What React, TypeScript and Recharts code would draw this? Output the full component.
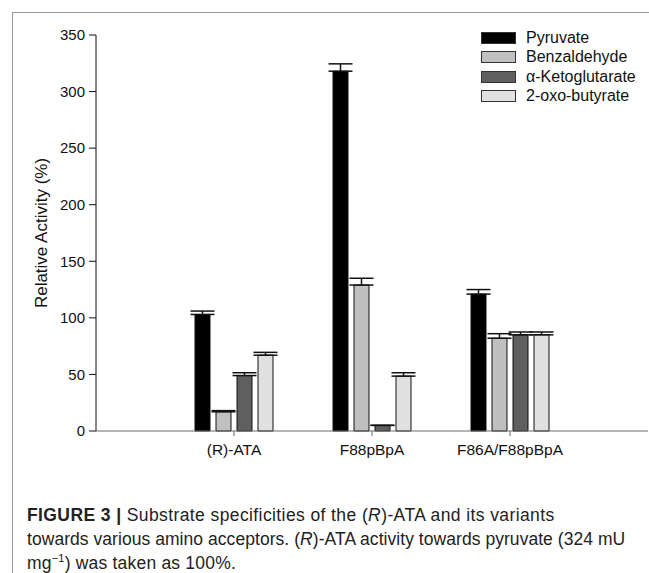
import { Bar, BarChart, ErrorBar, XAxis, YAxis, Label } from "recharts";

const categories = ["(R)-ATA", "F88pBpA", "F86A/F88pBpA"];
const pyruvate = [103, 318, 121];
const pyruvateErr = [3, 6.5, 4];
const benzaldehyde = [17, 129, 82];
const benzaldehydeErr = [1, 6, 4];
const ketoglutarate = [49, 5, 85];
const ketoglutarateErr = [2.5, 0, 2.5];
const oxobutyrate = [67, 48.5, 85];
const oxobutyrateErr = [2.5, 3, 2.5];
const yTicks = [0, 50, 100, 150, 200, 250, 300, 350];

const SERIES = [
  { key: "pyr", name: "Pyruvate", fill: "#000000" },
  { key: "benz", name: "Benzaldehyde", fill: "#c0c0c0" },
  { key: "keto", name: "\u03b1-Ketoglutarate", fill: "#5f5f5f" },
  { key: "oxo", name: "2-oxo-butyrate", fill: "#e0e0e0" },
];

const data = categories.map((c, i) => ({
  cat: c,
  pyr: pyruvate[i],
  pyrErr: [0, pyruvateErr[i]],
  benz: benzaldehyde[i],
  benzErr: [0, benzaldehydeErr[i]],
  keto: ketoglutarate[i],
  ketoErr: [0, ketoglutarateErr[i]],
  oxo: oxobutyrate[i],
  oxoErr: [0, oxobutyrateErr[i]],
}));

const font = "'Liberation Sans', Arial, sans-serif";

function LegendBox() {
  return (
    <div style={{ fontFamily: font, fontSize: 16, color: "#111" }}>
      {SERIES.map((s) => (
        <div key={s.key} style={{ display: "flex", alignItems: "center", height: 19.5 }}>
          <div
            style={{
              width: 33,
              height: 10,
              background: s.fill,
              border: "1px solid #333",
              marginRight: 10,
            }}
          />
          <span>{s.name}</span>
        </div>
      ))}
    </div>
  );
}

export default function App() {
  return (
    <div
      style={{
        position: "absolute",
        left: 0,
        top: 0,
        width: 649,
        height: 573,
        background: "#fff",
        overflow: "hidden",
        fontFamily: font,
      }}
    >
      <div
        style={{
          position: "absolute",
          left: 12,
          top: 12,
          width: 640,
          height: 570,
          borderTop: "1px solid #9a9a9a",
          borderLeft: "1px solid #9a9a9a",
        }}
      />
      <div style={{ position: "absolute", left: 0, top: 0 }}>
        <BarChart
          width={649}
          height={470}
          data={data}
          margin={{ top: 35, right: 1, bottom: 9, left: 0 }}
          barSize={15}
          barGap={6}
        >
          <XAxis
            dataKey="cat"
            padding={{ left: 69, right: 69 }}
            height={30}
            stroke="#6a6a6a"
            tickSize={5}
            tick={{ fill: "#111", fontSize: 15.5, fontFamily: font, dy: 6 }}
          />
          <YAxis
            width={96}
            domain={[0, 350]}
            ticks={yTicks}
            interval={0}
            stroke="#111"
            tickSize={7}
            tick={{ fill: "#111", fontSize: 15, fontFamily: font, dx: -2 }}
          >
            <Label
              content={() => (
                <text
                  x={41}
                  y={233}
                  transform="rotate(-90, 41, 233)"
                  textAnchor="middle"
                  dominantBaseline="central"
                  fontSize={17}
                  fontFamily={font}
                  fill="#111"
                >
                  Relative Activity (%)
                </text>
              )}
            />
          </YAxis>
          {SERIES.map((s) => (
            <Bar
              key={s.key}
              dataKey={s.key}
              name={s.name}
              fill={s.fill}
              stroke="#111"
              strokeWidth={1}
              isAnimationActive={false}
            >
              <ErrorBar dataKey={s.key + "Err"} width={12} stroke="#111" strokeWidth={1.5} />
            </Bar>
          ))}
        </BarChart>
      </div>
      <div style={{ position: "absolute", left: 481, top: 28 }}>
        <LegendBox />
      </div>
      <div
        style={{
          position: "absolute",
          left: 27,
          top: 503,
          fontSize: 17.5,
          lineHeight: "24px",
          color: "#222",
          whiteSpace: "nowrap",
        }}
      >
        <div style={{ letterSpacing: 0.4 }}>
          <b>FIGURE 3 |</b> Substrate specificities of the (<i>R</i>)-ATA and its variants
        </div>
        <div style={{ letterSpacing: 0.05 }}>
          towards various amino acceptors. (<i>R</i>)-ATA activity towards pyruvate (324 mU
        </div>
        <div style={{ letterSpacing: 0.2 }}>
          mg<sup style={{ fontSize: 11, lineHeight: 0 }}>{"\u22121"}</sup>) was taken as 100%.
        </div>
      </div>
    </div>
  );
}
